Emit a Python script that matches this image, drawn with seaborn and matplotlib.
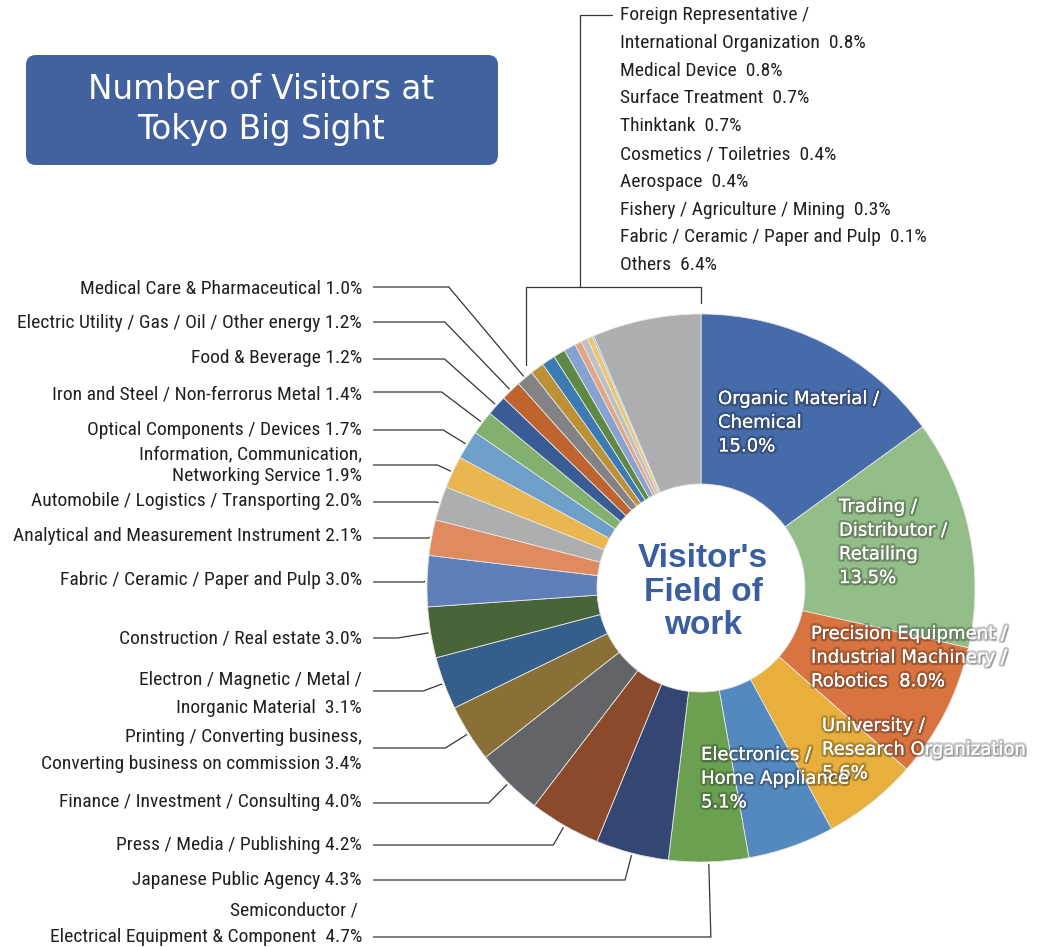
import numpy as np
import matplotlib.pyplot as plt
import matplotlib.patheffects as pe
from matplotlib.patches import FancyBboxPatch
from matplotlib import font_manager
import seaborn as sns

# Data: visitor field of work (%), clockwise from 12 o'clock
fields = [
    "Organic Material /\nChemical",
    "Trading /\nDistributor /\nRetailing",
    "Precision Equipment /\nIndustrial Machinery /\nRobotics ",
    "University /\nResearch Organization",
    "Electronics /\nHome Appliance",
    "Semiconductor / \nElectrical Equipment & Component ",
    "Japanese Public Agency",
    "Press / Media / Publishing",
    "Finance / Investment / Consulting",
    "Printing / Converting business,\nConverting business on commission",
    "Electron / Magnetic / Metal /\nInorganic Material ",
    "Construction / Real estate",
    "Fabric / Ceramic / Paper and Pulp",
    "Analytical and Measurement Instrument",
    "Automobile / Logistics / Transporting",
    "Information, Communication,\nNetworking Service",
    "Optical Components / Devices",
    "Iron and Steel / Non-ferrorus Metal",
    "Food & Beverage",
    "Electric Utility / Gas / Oil / Other energy",
    "Medical Care & Pharmaceutical",
    "Foreign Representative /\nInternational Organization ",
    "Medical Device ",
    "Surface Treatment ",
    "Thinktank ",
    "Cosmetics / Toiletries ",
    "Aerospace ",
    "Fishery / Agriculture / Mining ",
    "Fabric / Ceramic / Paper and Pulp ",
    "Others ",
]
shares = [15.0, 13.5, 8.0, 5.6, 5.1, 4.7, 4.3, 4.2, 4.0, 3.4,
          3.1, 3.0, 3.0, 2.1, 2.0, 1.9, 1.7, 1.4, 1.2, 1.2,
          1.0, 0.8, 0.8, 0.7, 0.7, 0.4, 0.4, 0.3, 0.1, 6.4]
slice_colors = [
    "#456BAA", "#93BD89", "#D97440", "#E8AF3C", "#5389BE",
    "#6BA050", "#344672", "#8B4A2C", "#636467", "#8A7037",
    "#335F8A", "#4A6439", "#5E7FBA", "#E08A5F", "#ADAEAF",
    "#E9B64F", "#6E9FC8", "#82B06F", "#3A5C95", "#C0642F",
    "#838385", "#BE9036", "#3B7AB2", "#5F8845", "#87A1D0",
    "#E4A486", "#BFC0C2", "#EFC56A", "#8DB8E0", "#ADAEB0",
]

n_inside = 5      # slices labelled inside the ring
n_left = 16       # next slices labelled on the left, rest go to top-right list

# layout (pixels)
W, H = 1045, 947
CX, CY, R, R_IN = 701, 588, 274, 104
inside_pos = [(718, 399), (839, 507), (811, 634), (822, 726), (701, 755)]
left_rows = [[910, 937], [880], [845], [802], [737, 764], [680, 708], [638],
             [580], [536], [501], [454, 476], [430], [394], [358], [323], [289]]
left_lead_y = [937, 880, 845, 803, 748, 691, 638, 582, 538, 502, 465, 430, 392, 359, 322, 287]
TEXT_X, LINE_X = 362, 373

# a narrow face for the side labels if there is one
installed = {f.name for f in font_manager.fontManager.ttflist}
label_font, label_size = "Roboto", 12.8
for name in ["Roboto Condensed", "Liberation Sans Narrow", "Open Sans Condensed"]:
    if name in installed:
        label_font, label_size = name, 14
        break

sns.set_theme(style="white")
plt.rcParams['font.family'] = [label_font, 'Liberation Sans', 'DejaVu Sans']

fig = plt.figure(figsize=(W / 100, H / 100), dpi=100)
ax = fig.add_axes([0, 0, 1, 1])

palette = sns.color_palette(slice_colors)
wedges, _ = ax.pie(shares, colors=palette, center=(CX, CY), radius=R,
                   startangle=-90, counterclock=True, frame=True,
                   wedgeprops=dict(width=R - R_IN, edgecolor="#e6e6e6", linewidth=0.6))
ax.set_xlim(0, W)
ax.set_ylim(H, 0)
ax.set_aspect('equal')
ax.axis('off')


def edge_point(theta, rr):
    t = np.deg2rad(theta)
    return CX + rr * np.cos(t), CY + rr * np.sin(t)


# inside labels
shadow = [pe.withStroke(linewidth=3.5, foreground=(0, 0, 0, 0.22)),
          pe.SimplePatchShadow(offset=(1.2, -1.2), alpha=0.35), pe.Normal()]
for i in range(n_inside):
    if fields[i].endswith(" "):
        txt = fields[i] + f" {shares[i]:.1f}%"
    else:
        txt = fields[i] + f"\n{shares[i]:.1f}%"
    x0, y0 = inside_pos[i]
    for k, line in enumerate(txt.split("\n")):
        ax.text(x0, y0 + k * 23.7, line, ha="left", va="center", color="white",
                fontsize=13, family=["DejaVu Sans"], path_effects=shadow, zorder=5)

# left labels with leader lines
line_col = "#3b3333"
for j in range(n_left):
    i = n_inside + j
    name_lines = fields[i].split("\n")
    name_lines[-1] = name_lines[-1] + f" {shares[i]:.1f}%"
    for line, y in zip(name_lines, left_rows[j]):
        ax.text(TEXT_X, y, line, ha="right", va="center", color="#231f20", fontsize=label_size)
    w = wedges[i]
    mid = (w.theta1 + w.theta2) / 2
    px, py = edge_point(mid, R + 2)
    ux, uy = np.cos(np.deg2rad(mid)), np.sin(np.deg2rad(mid))
    ly = left_lead_y[j]
    t = (ly - py) / uy if abs(uy) > 1e-6 else -1
    if 0 <= t <= 150:
        ex = px + t * ux
    else:
        ex = px - abs(ly - py)
    ax.plot([LINE_X, ex, px], [ly, ly, py], color=line_col, lw=0.9, solid_capstyle="butt")

# right-hand list with bracket
rx, ry, rstep = 620, 15, 27.8
k = 0
for i in range(n_inside + n_left, len(fields)):
    name_lines = fields[i].split("\n")
    name_lines[-1] = name_lines[-1] + f" {shares[i]:.1f}%"
    for line in name_lines:
        ax.text(rx, ry + k * rstep, line, ha="left", va="center", color="#231f20", fontsize=label_size)
        k += 1

first = wedges[n_inside + n_left]
last = wedges[-1]
bx0, by0 = edge_point(first.theta1, R + 10)
bx1, by1 = edge_point(last.theta2, R + 11)
bracket_y, stem_x = 287, 580
ax.plot([bx0, bx0, bx1, bx1], [by0, bracket_y, bracket_y, by1], color=line_col, lw=0.9)
ax.plot([stem_x, stem_x, 612], [bracket_y, ry, ry], color=line_col, lw=0.9)

# centre caption
ax.text(CX + 2, 592, "Visitor's\nField of\nwork", ha="center", va="center",
        color="#3a5fa0", fontsize=24, fontweight="bold", family=["Liberation Sans"],
        linespacing=1.12, zorder=6)

# title box
box = FancyBboxPatch((26, 55), 472, 110, boxstyle="round,pad=0,rounding_size=10",
                     facecolor="#41629e", edgecolor="none", zorder=4)
ax.add_patch(box)
ax.text(261, 89, "Number of Visitors at", ha="center", va="center", color="white",
        fontsize=23.5, family=["DejaVu Sans"], zorder=5)
ax.text(261, 129, "Tokyo Big Sight", ha="center", va="center", color="white",
        fontsize=23.5, family=["DejaVu Sans"], zorder=5)

fig.savefig("out.png", dpi=100, facecolor="white")
